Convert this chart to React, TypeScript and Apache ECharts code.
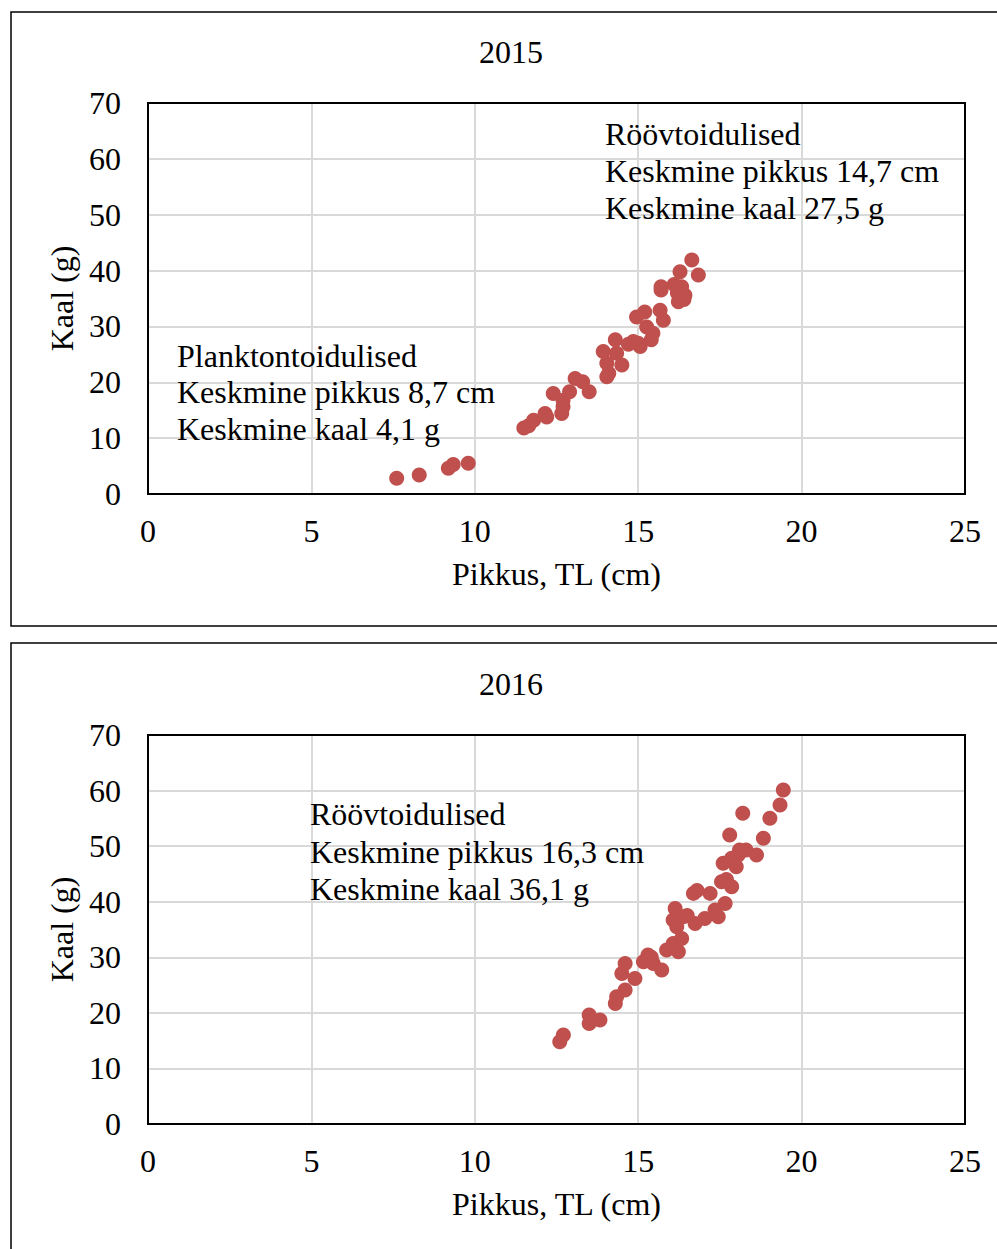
import React, { useEffect, useRef } from "react";
import * as echarts from "echarts";

const xTicks = [0, 5, 10, 15, 20, 25];
const yTicks = [0, 10, 20, 30, 40, 50, 60, 70];

const len2015 = [7.61, 8.3, 9.19, 9.34, 9.8, 11.5, 11.8, 12.15, 12.4, 12.66, 12.7, 12.7, 12.9, 13.07, 13.3, 13.5, 13.93, 14.04, 14.1, 14.04, 14.3, 14.34, 14.5, 14.85, 14.95, 15.06, 15.2, 15.26, 15.4, 15.45, 15.7, 15.67, 15.77, 16.28, 16.33, 16.23, 16.43, 16.64, 16.84, 16.1, 15.7, 11.65, 12.2, 14.7, 15.0, 16.4, 16.2];
const wt2015 = [2.8, 3.4, 4.6, 5.3, 5.5, 11.8, 13.2, 14.4, 18.0, 14.4, 15.6, 16.8, 18.3, 20.7, 20.1, 18.3, 25.5, 21.0, 21.6, 23.4, 27.6, 25.2, 23.1, 27.3, 31.7, 26.4, 32.6, 29.9, 27.6, 28.8, 37.1, 32.9, 31.1, 39.8, 37.1, 34.4, 35.6, 41.9, 39.2, 37.5, 36.5, 12.2, 13.8, 26.8, 27.0, 34.8, 36.0];

const len2016 = [12.6, 12.71, 13.5, 13.5, 13.83, 14.3, 14.34, 14.6, 14.6, 14.5, 14.9, 15.16, 15.3, 15.46, 15.72, 15.87, 16.07, 16.23, 16.33, 16.07, 16.13, 16.18, 16.38, 16.74, 16.69, 17.04, 17.2, 17.35, 17.45, 17.55, 17.66, 17.86, 17.6, 17.8, 18.0, 18.06, 18.3, 18.2, 18.62, 18.83, 19.03, 19.34, 19.44, 17.86, 18.1, 15.4, 16.8, 17.7, 16.5];
const wt2016 = [14.8, 16.0, 19.6, 18.1, 18.7, 21.7, 22.9, 24.1, 28.9, 27.1, 26.2, 29.2, 30.4, 28.9, 27.7, 31.3, 32.5, 31.0, 33.4, 36.7, 38.8, 35.5, 37.3, 36.1, 41.5, 37.0, 41.5, 38.5, 37.3, 43.6, 39.7, 42.7, 46.9, 52.0, 46.3, 48.4, 49.3, 55.9, 48.4, 51.4, 55.0, 57.4, 60.1, 47.8, 49.3, 30.0, 42.0, 44.0, 37.5];

const titles = ["2015", "2016"];
const xName = "Pikkus, TL (cm)";
const yName = "Kaal (g)";
const notes2015a = ["Planktontoidulised", "Keskmine pikkus 8,7 cm", "Keskmine kaal 4,1 g"];
const notes2015b = ["Röövtoidulised", "Keskmine pikkus 14,7 cm", "Keskmine kaal 27,5 g"];
const notes2016 = ["Röövtoidulised", "Keskmine pikkus 16,3 cm", "Keskmine kaal 36,1 g"];

const FONT = "Liberation Serif";
const FS = 32;

const GRIDS = [
  { left: 148, top: 103, width: 817, height: 391 },
  { left: 148, top: 735, width: 817, height: 389 },
];

export default function App() {
  const ref = useRef<HTMLDivElement>(null);
  useEffect(() => {
    const chart = echarts.init(ref.current!, undefined, { renderer: "svg" });
    const xAxisBase = (gi: number) => ({
      type: "value" as const,
      gridIndex: gi,
      min: xTicks[0],
      max: xTicks[xTicks.length - 1],
      interval: 5,
      name: xName,
      nameLocation: "middle" as const,
      nameGap: 64,
      nameTextStyle: { fontFamily: FONT, fontSize: FS, color: "#000" },
      axisLine: { show: false },
      axisTick: { show: false },
      axisLabel: { fontFamily: FONT, fontSize: FS, color: "#000", margin: 21 },
      splitLine: { show: true, lineStyle: { color: "#d9d9d9", width: 2 } },
    });
    const yAxisBase = (gi: number) => ({
      type: "value" as const,
      gridIndex: gi,
      min: yTicks[0],
      max: yTicks[yTicks.length - 1],
      interval: 10,
      name: yName,
      nameLocation: "middle" as const,
      nameGap: 70,
      nameRotate: 90,
      nameTextStyle: { fontFamily: FONT, fontSize: FS, color: "#000" },
      axisLine: { show: false },
      axisTick: { show: false },
      axisLabel: { fontFamily: FONT, fontSize: FS, color: "#000", margin: 27 },
      splitLine: { show: true, lineStyle: { color: "#d9d9d9", width: 2 } },
    });
    const textLines = (lines: string[], x: number, ys: number[]) =>
      lines.map((t, i) => ({
        type: "text",
        x,
        y: ys[i],
        style: { text: t, fontFamily: FONT, fontSize: FS, fill: "#000", verticalAlign: "middle" },
        z: 10,
      }));
    chart.setOption({
      animation: false,
      backgroundColor: "#fff",
      grid: GRIDS.map((g) => ({ ...g, show: false })),
      xAxis: [xAxisBase(0), xAxisBase(1)],
      yAxis: [yAxisBase(0), yAxisBase(1)],
      series: [
        {
          type: "scatter",
          xAxisIndex: 0,
          yAxisIndex: 0,
          symbolSize: 15,
          itemStyle: { color: "#C0504D", opacity: 1 },
          data: len2015.map((x, i) => [x, wt2015[i]]),
        },
        {
          type: "scatter",
          xAxisIndex: 1,
          yAxisIndex: 1,
          symbolSize: 15,
          itemStyle: { color: "#C0504D", opacity: 1 },
          data: len2016.map((x, i) => [x, wt2016[i]]),
        },
      ],
      graphic: [
        { type: "rect", shape: { x: 11, y: 12, width: 1000, height: 614 }, style: { fill: "none", stroke: "#000", lineWidth: 1.5 } },
        { type: "rect", shape: { x: 11, y: 643, width: 1000, height: 620 }, style: { fill: "none", stroke: "#000", lineWidth: 1.5 } },
        ...GRIDS.map((g) => ({
          type: "rect",
          z: 20,
          shape: { x: g.left, y: g.top, width: g.width, height: g.height },
          style: { fill: "none", stroke: "#000", lineWidth: 2 },
        })),
        { type: "text", x: 511, y: 52, style: { text: titles[0], fontFamily: FONT, fontSize: FS, fill: "#000", align: "center", verticalAlign: "middle" } },
        { type: "text", x: 511, y: 684, style: { text: titles[1], fontFamily: FONT, fontSize: FS, fill: "#000", align: "center", verticalAlign: "middle" } },
        ...textLines(notes2015a, 177, [356, 392, 429]),
        ...textLines(notes2015b, 605, [134, 171, 208]),
        ...textLines(notes2016, 310, [814, 852, 889]),
      ],
    });
    return () => chart.dispose();
  }, []);
  return <div ref={ref} style={{ position: "absolute", left: 0, top: 0, width: 997, height: 1249 }} />;
}
